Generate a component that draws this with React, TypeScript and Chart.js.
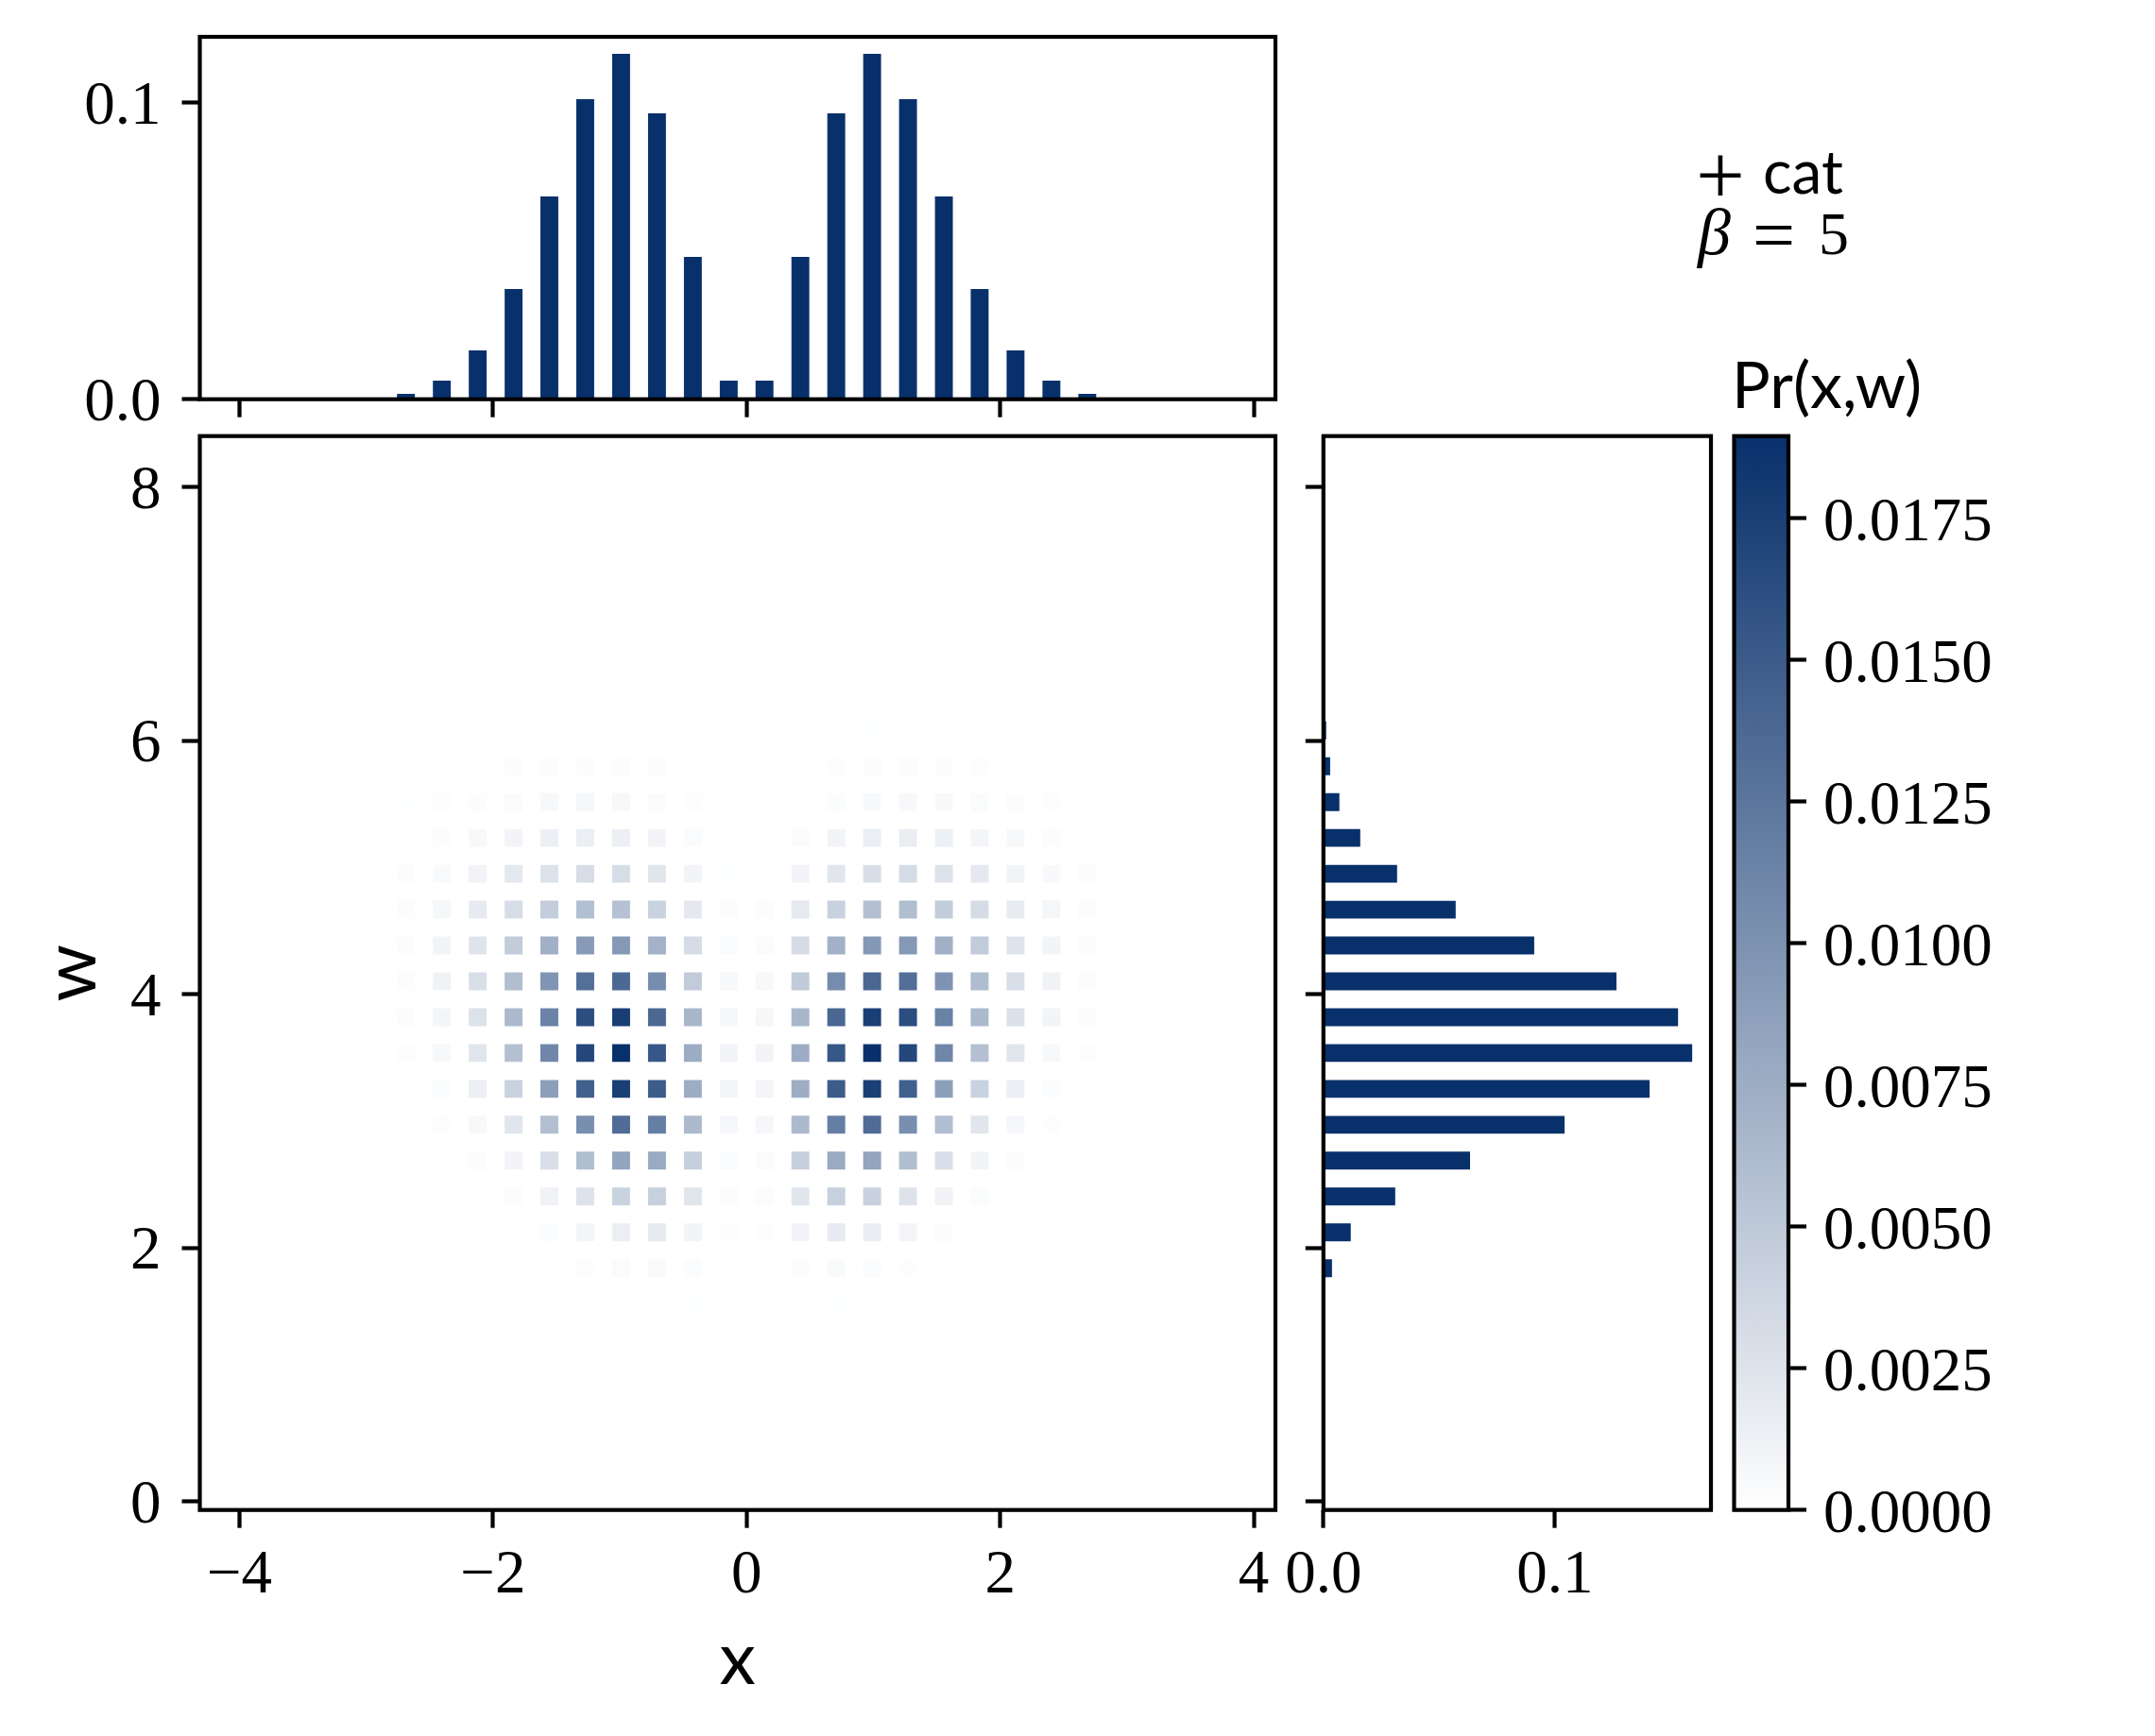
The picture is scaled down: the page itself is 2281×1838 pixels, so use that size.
import React, { useEffect, useRef } from "react";
import { Chart, registerables } from "chart.js";

Chart.register(...registerables);

const PAGE_W = 2281;
const PAGE_H = 1838;

// ---- data -------------------------------------------------------------
const xCenters = [-2.97, -2.687, -2.404, -2.121, -1.838, -1.556, -1.273, -0.99, -0.707, -0.424, -0.141, 0.141, 0.424, 0.707, 0.99, 1.273, 1.556, 1.838, 2.121, 2.404, 2.687, 2.97];
const wCenters = [6.081, 5.798, 5.515, 5.233, 4.95, 4.667, 4.384, 4.101, 3.818, 3.536, 3.253, 2.97, 2.687, 2.404, 2.121, 1.838, 1.556];

// joint probability per cell, in units of 1e-5, one row per w, top row first
const PR_UNIT = 1e-5;
const prW608 = [0, 0, 0, 0, 0, 8, 8, 12, 0, 0, 0, 0, 0, 0, 12, 8, 8, 0, 0, 0, 0, 0];
const prW580 = [0, 0, 0, 8, 23, 23, 23, 23, 23, 0, 0, 0, 0, 15, 23, 23, 23, 15, 0, 0, 0, 0];
const prW552 = [0, 12, 15, 23, 38, 61, 69, 61, 38, 15, 0, 0, 12, 31, 54, 61, 54, 38, 23, 15, 8, 0];
const prW523 = [0, 8, 23, 61, 100, 146, 153, 146, 100, 38, 0, 0, 38, 100, 153, 161, 138, 92, 61, 23, 8, 0];
const prW495 = [8, 23, 46, 107, 207, 268, 314, 307, 230, 100, 12, 12, 100, 230, 299, 322, 268, 199, 107, 54, 23, 8];
const prW467 = [8, 23, 77, 184, 314, 460, 591, 560, 414, 199, 23, 23, 192, 422, 575, 598, 468, 322, 176, 84, 31, 8];
const prW438 = [4, 23, 100, 245, 468, 721, 920, 936, 706, 322, 38, 38, 322, 713, 936, 936, 721, 476, 245, 100, 23, 4];
const prW410 = [4, 23, 115, 291, 598, 974, 1312, 1373, 1043, 476, 61, 61, 476, 1051, 1388, 1319, 982, 606, 291, 115, 23, 4];
const prW382 = [0, 23, 92, 268, 637, 1135, 1626, 1764, 1381, 667, 77, 77, 667, 1388, 1756, 1626, 1143, 644, 276, 100, 23, 0];
const prW354 = [0, 15, 61, 230, 575, 1097, 1680, 1895, 1542, 759, 100, 100, 759, 1542, 1895, 1680, 1097, 575, 230, 61, 15, 0];
const prW325 = [0, 0, 31, 146, 414, 882, 1457, 1756, 1496, 752, 92, 92, 752, 1496, 1756, 1457, 882, 414, 146, 31, 0, 0];
const prW297 = [0, 0, 15, 61, 230, 583, 1028, 1342, 1181, 629, 69, 69, 629, 1181, 1342, 1028, 591, 230, 69, 15, 0, 0];
const prW269 = [0, 0, 0, 23, 100, 291, 598, 828, 782, 437, 38, 38, 437, 782, 836, 598, 291, 100, 23, 0, 0, 0];
const prW240 = [0, 0, 0, 0, 23, 115, 261, 414, 430, 230, 23, 23, 230, 430, 422, 261, 115, 31, 0, 0, 0, 0];
const prW212 = [0, 0, 0, 0, 0, 31, 92, 153, 184, 100, 15, 15, 100, 184, 161, 92, 31, 0, 0, 0, 0, 0];
const prW184 = [0, 0, 0, 0, 0, 8, 15, 38, 46, 31, 0, 0, 31, 46, 38, 15, 8, 0, 0, 0, 0, 0];
const prW156 = [0, 0, 0, 0, 0, 0, 0, 8, 4, 4, 0, 0, 4, 4, 8, 0, 0, 0, 0, 0, 0, 0];
const prRows = [prW608, prW580, prW552, prW523, prW495, prW467, prW438, prW410, prW382, prW354, prW325, prW297, prW269, prW240, prW212, prW184, prW156];

const marginalXx = [-2.687, -2.404, -2.121, -1.838, -1.556, -1.273, -0.99, -0.707, -0.424, -0.141, 0.141, 0.424, 0.707, 0.99, 1.273, 1.556, 1.838, 2.121, 2.404, 2.687];
const marginalX = [0.0018, 0.0063, 0.0165, 0.0372, 0.0684, 0.1012, 0.1165, 0.0964, 0.048, 0.0063, 0.0063, 0.048, 0.0964, 0.1165, 0.1012, 0.0684, 0.0372, 0.0165, 0.0063, 0.0018];
const marginalW = [0.0012, 0.0029, 0.0069, 0.0159, 0.0318, 0.0571, 0.091, 0.1265, 0.1531, 0.1592, 0.1408, 0.1041, 0.0633, 0.031, 0.0118, 0.0037];

const xTicks = [-4, -2, 0, 2, 4];
const wTicks = [0, 2, 4, 6, 8];
const topTicks = [0, 0.1];
const rightTicks = [0, 0.1];
const cbarTicks = [0, 0.0025, 0.005, 0.0075, 0.01, 0.0125, 0.015, 0.0175];

const X_LIMITS = [-4.313, 4.171];
const W_LIMITS = [-0.069, 8.403];
const TOP_MAX = 0.1222;
const RIGHT_MAX = 0.1673;
const PR_MAX = 0.01895;
const CELL_SIZE = 0.1414;

const BAR_COLOR = "#08306b";
const SERIF = '"Liberation Serif", serif';
const SANS = "Lato, sans-serif";
const TICK_FONT = { family: SERIF, size: 65 };
const AXIS_FONT = { family: SANS, size: 77 };

// panel boxes in page pixels
const TOP_BOX = { l: 211.5, r: 1350, t: 39, b: 422.7 };
const MAIN_BOX = { l: 211.5, r: 1350, t: 461.7, b: 1598.7 };
const RIGHT_BOX = { l: 1400.8, r: 1811, t: 461.7, b: 1598.7 };
const CBAR_BOX = { l: 1835.5, r: 1893, t: 461.7, b: 1598.7 };

const LEFT_AXIS = 181.5;
const BOTTOM_AXIS = 206;
const SHORT_AXIS = 30;
const CBAR_AXIS = 300;

// ---- helpers ----------------------------------------------------------
const prColor = (v: number, alpha = 1) => {
  const t = Math.min(1, v / PR_MAX);
  const r = Math.round(255 + (8 - 255) * t);
  const g = Math.round(255 + (48 - 255) * t);
  const b = Math.round(255 + (107 - 255) * t);
  return `rgba(${r},${g},${b},${alpha})`;
};

const framePlugin = {
  id: "frame",
  afterDatasetsDraw(chart: any) {
    const { ctx, chartArea: a } = chart;
    ctx.save();
    ctx.strokeStyle = "#000";
    ctx.lineWidth = 4.2;
    ctx.strokeRect(a.left, a.top, a.right - a.left, a.bottom - a.top);
    ctx.restore();
  },
};

const fmtNum = (v: number) => String(v).replace("-", "\u2212");

const axis = (
  min: number,
  max: number,
  ticks: number[],
  size: number,
  format: ((v: number) => string) | null,
  extra: any = {},
) => ({
  type: "linear",
  min,
  max,
  offset: false,
  border: { display: false },
  grid: {
    offset: false,
    drawOnChartArea: false,
    drawTicks: true,
    tickLength: 19,
    tickWidth: 4.2,
    tickColor: "#000",
  },
  ticks: {
    autoSkip: false,
    maxRotation: 0,
    minRotation: 0,
    color: "#000",
    font: TICK_FONT,
    padding: extra.position ? 22 : 12,
    labelOffset: extra.position ? 5 : 0,
    callback: (v: any) => (format ? format(Number(v)) : ""),
  },
  afterBuildTicks: (s: any) => {
    s.ticks = ticks.map((value) => ({ value }));
  },
  afterFit: (s: any) => {
    if (s.isHorizontal()) s.height = size;
    else s.width = size;
    s.paddingTop = 0;
    s.paddingBottom = 0;
    s.paddingLeft = 0;
    s.paddingRight = 0;
  },
  ...extra,
});

const baseOptions = (box: any, leftAxis: number, bottomAxis: number, rightAxis = 0) => ({
  responsive: false,
  devicePixelRatio: 1,
  animation: false,
  layout: {
    autoPadding: false,
    padding: {
      left: box.l - leftAxis,
      right: PAGE_W - box.r - rightAxis,
      top: box.t,
      bottom: PAGE_H - box.b - bottomAxis,
    },
  },
  plugins: { legend: { display: false }, tooltip: { enabled: false } },
});

const heatPoints = () => {
  const pts: { x: number; y: number; v: number }[] = [];
  prRows.forEach((row, i) =>
    row.forEach((cell, j) => {
      if (cell > 0) pts.push({ x: xCenters[j], y: wCenters[i], v: cell * PR_UNIT });
    }),
  );
  return pts;
};

const topConfig = (): any => ({
  type: "bar",
  data: {
    datasets: [
      {
        data: marginalXx.map((x, i) => ({ x, y: marginalX[i] })),
        backgroundColor: BAR_COLOR,
        barPercentage: 0.5,
        categoryPercentage: 1,
      },
    ],
  },
  options: {
    ...baseOptions(TOP_BOX, LEFT_AXIS, SHORT_AXIS),
    scales: {
      x: axis(X_LIMITS[0], X_LIMITS[1], xTicks, SHORT_AXIS, null),
      y: axis(0, TOP_MAX, topTicks, LEFT_AXIS, (v) => v.toFixed(1), { position: "left" }),
    },
  },
  plugins: [framePlugin],
});

const mainConfig = (): any => ({
  type: "scatter",
  data: {
    datasets: [
      {
        data: heatPoints(),
        showLine: false,
        pointStyle: "rect",
        borderWidth: 0,
        pointBorderWidth: 0,
        pointRadius: (c: any) => {
          const sx = c.chart.scales.x;
          const side = sx.getPixelForValue(CELL_SIZE) - sx.getPixelForValue(0);
          return side * Math.SQRT1_2;
        },
        pointBackgroundColor: (c: any) => prColor(c.raw ? c.raw.v : 0),
      },
    ],
  },
  options: {
    ...baseOptions(MAIN_BOX, LEFT_AXIS, BOTTOM_AXIS),
    scales: {
      x: axis(X_LIMITS[0], X_LIMITS[1], xTicks, BOTTOM_AXIS, fmtNum, {
        title: { display: true, text: "x", color: "#000", font: AXIS_FONT, padding: 0 },
      }),
      y: axis(W_LIMITS[0], W_LIMITS[1], wTicks, LEFT_AXIS, fmtNum, {
        position: "left",
        title: { display: true, text: "w", color: "#000", font: AXIS_FONT, padding: 0 },
      }),
    },
  },
  plugins: [framePlugin],
});

const rightConfig = (): any => ({
  type: "bar",
  data: {
    datasets: [
      {
        data: marginalW.map((x, i) => ({ x, y: wCenters[i] })),
        backgroundColor: BAR_COLOR,
        barPercentage: 0.5,
        categoryPercentage: 1,
      },
    ],
  },
  options: {
    ...baseOptions(RIGHT_BOX, SHORT_AXIS, BOTTOM_AXIS),
    indexAxis: "y",
    scales: {
      x: axis(0, RIGHT_MAX, rightTicks, BOTTOM_AXIS, (v) => v.toFixed(1)),
      y: axis(W_LIMITS[0], W_LIMITS[1], wTicks, SHORT_AXIS, null, { position: "left" }),
    },
  },
  plugins: [framePlugin],
});

const cbarConfig = (): any => ({
  type: "bar",
  data: {
    labels: ["Pr(x,w)"],
    datasets: [
      {
        data: [[0, PR_MAX]],
        barPercentage: 1,
        categoryPercentage: 1,
        backgroundColor: (c: any) => {
          const a = c.chart.chartArea;
          if (!a) return BAR_COLOR;
          const g = c.chart.ctx.createLinearGradient(0, a.bottom, 0, a.top);
          g.addColorStop(0, prColor(0));
          g.addColorStop(1, prColor(PR_MAX));
          return g;
        },
      },
    ],
  },
  options: {
    ...baseOptions(CBAR_BOX, 0, 0, CBAR_AXIS),
    scales: {
      x: { type: "category", display: false },
      y: axis(0, PR_MAX, cbarTicks, CBAR_AXIS, (v) => v.toFixed(4), {
        position: "right",
        ticks: {
          autoSkip: false,
          color: "#000",
          font: TICK_FONT,
          padding: 18,
          labelOffset: 6,
          callback: (v: any) => Number(v).toFixed(4),
        },
      }),
    },
  },
  plugins: [framePlugin],
});

const textAt = (left: number, baseline: number, size: number, family: string, extra: React.CSSProperties = {}): React.CSSProperties => ({
  position: "absolute",
  left,
  top: baseline - size * (family === SERIF ? 0.8375 : 0.887),
  fontFamily: family,
  fontSize: size,
  lineHeight: `${size}px`,
  color: "#000",
  whiteSpace: "pre",
  ...extra,
});

const layer: React.CSSProperties = { position: "absolute", left: 0, top: 0, width: PAGE_W, height: PAGE_H };

export default function App() {
  const topRef = useRef<HTMLCanvasElement>(null);
  const mainRef = useRef<HTMLCanvasElement>(null);
  const rightRef = useRef<HTMLCanvasElement>(null);
  const cbarRef = useRef<HTMLCanvasElement>(null);

  useEffect(() => {
    const charts = [
      new Chart(topRef.current!, topConfig()),
      new Chart(mainRef.current!, mainConfig()),
      new Chart(rightRef.current!, rightConfig()),
      new Chart(cbarRef.current!, cbarConfig()),
    ];
    return () => charts.forEach((c) => c.destroy());
  }, []);

  return (
    <div style={{ ...layer, background: "#fff", overflow: "hidden" }}>
      <canvas ref={topRef} width={PAGE_W} height={PAGE_H} style={layer} />
      <canvas ref={mainRef} width={PAGE_W} height={PAGE_H} style={layer} />
      <canvas ref={rightRef} width={PAGE_W} height={PAGE_H} style={layer} />
      <canvas ref={cbarRef} width={PAGE_W} height={PAGE_H} style={layer} />
      <div style={textAt(1795, 216, 92, SERIF)}>+</div>
      <div style={textAt(1866, 206, 64, SANS)}>cat</div>
      <div style={textAt(1797, 270, 70, SERIF, { fontStyle: "italic" })}>β</div>
      <div style={textAt(1855, 276, 80, SERIF)}>=</div>
      <div style={textAt(1925, 270, 64, SERIF)}>5</div>
      <div style={textAt(1833, 432, 68, SANS)}>Pr(x,w)</div>
    </div>
  );
}
